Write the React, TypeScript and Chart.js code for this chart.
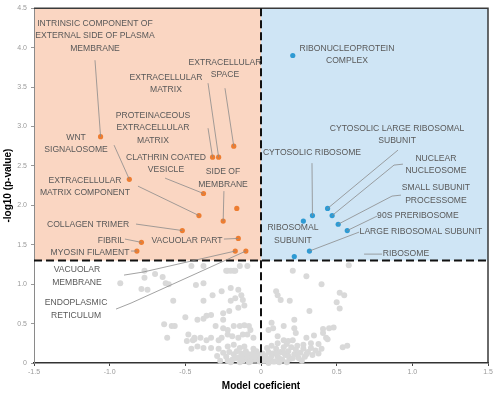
import React, { useEffect, useRef } from "react";
import { Chart, registerables } from "chart.js";
Chart.register(...registerables);

// ---- axes ----
const xRange = [-1.5, 1.5];
const yRange = [0, 4.5];
const xStep = 0.5;
const yStep = 0.5;
const pThreshold = 1.3;

// ---- enriched in negative coefficient (orange) ----
const negTerms = ["intrinsic", "wnt", "exSpace", "protEcm", "ecm", "clathrin", "ecmComp", "sideMem", "other", "collagen", "fibril", "myosin", "vacPart", "vacMem", "er"];
const negX = [-1.06, -0.87, -0.18, -0.32, -0.28, -0.38, -0.41, -0.25, -0.16, -0.52, -0.79, -0.82, -0.15, -0.17, -0.1];
const negY = [2.87, 2.33, 2.75, 2.61, 2.61, 2.15, 1.87, 1.8, 1.96, 1.68, 1.53, 1.42, 1.58, 1.42, 1.42];

// ---- enriched in positive coefficient (blue) ----
const posTerms = ["rnp", "cytLarge", "nucNuc", "cytRibo", "riboSub", "ssp", "pre90", "largeSub", "ribosome"];
const posX = [0.21, 0.44, 0.47, 0.34, 0.28, 0.51, 0.57, 0.32, 0.22];
const posY = [3.9, 1.96, 1.87, 1.87, 1.8, 1.76, 1.68, 1.42, 1.35];

// ---- non-significant terms (grey) ----
const greyPoints: [number, number][] = [
  [-0.93, 1.01], [-0.77, 1.17], [-0.7, 1.13], [-0.65, 1.09], [-0.77, 1.08], [-0.63, 1.01], [-0.61, 1.0], [-0.79, 0.94], [-0.75, 0.93],
  [-0.58, 0.79], [-0.5, 0.58], [-0.64, 0.49], [-0.59, 0.47], [-0.57, 0.47], [-0.62, 0.32], [-0.48, 0.36], [-0.45, 0.29], [-0.44, 0.3],
  [-0.49, 0.28], [-0.46, 0.18],
  [-0.46, 1.23], [-0.38, 1.23], [-0.22, 1.17], [-0.18, 1.17], [-0.14, 1.23], [-0.09, 1.23], [-0.23, 1.17], [-0.2, 1.17], [-0.17, 1.17],
  [-0.43, 0.99], [-0.38, 1.01], [-0.38, 0.79], [-0.32, 0.86], [-0.26, 0.91],
  [-0.2, 0.95], [-0.15, 0.93], [-0.13, 0.86], [-0.17, 0.82], [-0.12, 0.8], [-0.11, 0.73], [-0.2, 0.79], [-0.15, 0.7],
  [-0.25, 0.63], [-0.21, 0.66],
  [-0.42, 0.55], [-0.38, 0.56], [-0.36, 0.6], [-0.33, 0.61], [-0.25, 0.55],
  [-0.3, 0.47], [-0.25, 0.44], [-0.22, 0.42], [-0.18, 0.47], [-0.14, 0.47], [-0.11, 0.48], [-0.08, 0.47], [-0.07, 0.42],
  [-0.44, 0.32], [-0.4, 0.32], [-0.36, 0.29], [-0.33, 0.32], [-0.28, 0.29], [-0.26, 0.32], [-0.22, 0.36], [-0.19, 0.34], [-0.15, 0.32],
  [-0.12, 0.36], [-0.09, 0.36], [-0.05, 0.32],
  [-0.42, 0.21], [-0.38, 0.19], [-0.33, 0.19], [-0.28, 0.18], [-0.22, 0.21], [-0.18, 0.23], [-0.14, 0.19], [-0.11, 0.21],
  [-0.25, 0.13], [-0.23, 0.08], [-0.21, 0.14], [-0.19, 0.04], [-0.18, 0.11], [-0.16, 0.15], [-0.15, 0.07], [-0.13, 0.12], [-0.12, 0.03],
  [-0.11, 0.09], [-0.1, 0.15], [-0.09, 0.05], [-0.08, 0.11], [-0.07, 0.02], [-0.06, 0.08], [-0.05, 0.13], [-0.04, 0.04], [-0.03, 0.1],
  [-0.02, 0.06], [-0.01, 0.02], [-0.2, 0.01], [-0.14, 0.01], [-0.29, 0.09], [-0.05, 0.18], [-0.03, 0.15],
  [-0.22, 0.03], [-0.17, 0.06], [-0.13, 0.07], [-0.08, 0.01], [-0.06, 0.04], [-0.04, 0.08], [-0.02, 0.11], [0.0, 0.05], [-0.27, 0.03],
  [0.21, 1.17], [0.3, 1.1], [0.58, 1.24], [0.4, 1.0], [0.1, 0.91], [0.11, 0.86], [0.13, 0.8], [0.19, 0.79], [0.52, 0.89], [0.55, 0.86],
  [0.5, 0.77], [0.52, 0.69], [0.32, 0.66], [0.22, 0.55],
  [0.07, 0.51], [0.08, 0.44], [0.05, 0.42], [0.15, 0.47], [0.22, 0.44], [0.23, 0.38],
  [0.11, 0.34], [0.15, 0.29], [0.18, 0.28], [0.21, 0.29], [0.3, 0.32], [0.35, 0.35], [0.41, 0.43], [0.45, 0.44], [0.48, 0.45], [0.41, 0.38],
  [0.44, 0.3], [0.43, 0.32], [0.54, 0.2], [0.57, 0.22],
  [0.11, 0.25], [0.17, 0.24], [0.24, 0.22], [0.28, 0.23], [0.33, 0.25], [0.38, 0.24],
  [0.02, 0.03], [0.03, 0.09], [0.05, 0.14], [0.06, 0.05], [0.08, 0.12], [0.09, 0.02], [0.1, 0.18], [0.11, 0.08], [0.13, 0.14], [0.14, 0.04],
  [0.15, 0.2], [0.16, 0.1], [0.18, 0.15], [0.19, 0.05], [0.2, 0.2], [0.22, 0.11], [0.23, 0.17], [0.25, 0.06], [0.26, 0.13], [0.28, 0.18],
  [0.29, 0.08], [0.31, 0.14], [0.33, 0.19], [0.34, 0.1], [0.36, 0.16], [0.38, 0.12], [0.4, 0.18], [0.04, 0.19], [0.07, 0.22], [0.01, 0.12],
  [0.12, 0.01], [0.17, 0.01], [0.05, 0.0],
  [0.02, 0.07], [0.04, 0.05], [0.07, 0.09], [0.08, 0.02], [0.1, 0.12], [0.12, 0.06], [0.15, 0.13], [0.18, 0.09], [0.21, 0.06], [0.24, 0.1],
  [0.27, 0.03], [0.3, 0.11],
];

// ---- term labels (text position & leader line in data units) ----
type Ann = { lines: string[]; at: [number, number]; leader?: [number, number][]; term?: string };
const annotations: Ann[] = [
  { lines: ["INTRINSIC COMPONENT OF", "EXTERNAL SIDE OF PLASMA", "MEMBRANE"], at: [-1.097, 4.309], leader: [[-1.097, 3.84]], term: "intrinsic" },
  { lines: ["EXTRACELLULAR", "SPACE"], at: [-0.238, 3.815], leader: [[-0.238, 3.485]], term: "exSpace" },
  { lines: ["EXTRACELLULAR", "MATRIX"], at: [-0.628, 3.625], leader: [[-0.35, 3.549]], term: "ecm" },
  { lines: ["PROTEINACEOUS", "EXTRACELLULAR", "MATRIX"], at: [-0.714, 3.143], leader: [[-0.35, 2.978]], term: "protEcm" },
  { lines: ["WNT", "SIGNALOSOME"], at: [-1.222, 2.86], leader: [[-0.971, 2.763]], term: "wnt" },
  { lines: ["CLATHRIN COATED", "VESICLE"], at: [-0.628, 2.611], leader: [[-0.634, 2.345]], term: "clathrin" },
  { lines: ["SIDE OF", "MEMBRANE"], at: [-0.251, 2.421], leader: [[-0.245, 2.18]], term: "sideMem" },
  { lines: ["EXTRACELLULAR", "MATRIX COMPONENT"], at: [-1.163, 2.319], leader: [[-0.813, 2.243]], term: "ecmComp" },
  { lines: ["COLLAGEN TRIMER"], at: [-1.143, 1.749], leader: [[-0.826, 1.762]], term: "collagen" },
  { lines: ["FIBRIL"], at: [-0.991, 1.546], leader: [[-0.899, 1.572]], term: "fibril" },
  { lines: ["MYOSIN FILAMENT"], at: [-1.13, 1.394], leader: [[-0.859, 1.42]], term: "myosin" },
  { lines: ["VACUOLAR PART"], at: [-0.489, 1.546], leader: [[-0.245, 1.572]], term: "vacPart" },
  { lines: ["VACUOLAR", "MEMBRANE"], at: [-1.216, 1.179], leader: [[-0.905, 1.115], [-0.78, 1.153]], term: "vacMem" },
  { lines: ["ENDOPLASMIC", "RETICULUM"], at: [-1.222, 0.76], leader: [[-0.958, 0.684], [-0.859, 0.76]], term: "er" },
  { lines: ["RIBONUCLEOPROTEIN", "COMPLEX"], at: [0.568, 3.992] },
  { lines: ["CYTOSOLIC LARGE RIBOSOMAL", "SUBUNIT"], at: [0.899, 2.978], leader: [[0.905, 2.7]], term: "cytLarge" },
  { lines: ["CYTOSOLIC RIBOSOME"], at: [0.337, 2.662], leader: [[0.337, 2.535]], term: "cytRibo" },
  { lines: ["NUCLEAR", "NUCLEOSOME"], at: [1.156, 2.598], leader: [[0.938, 2.522], [0.879, 2.51]], term: "nucNuc" },
  { lines: ["SMALL SUBUNIT", "PROCESSOME"], at: [1.156, 2.218], leader: [[0.925, 2.129], [0.866, 2.117]], term: "ssp" },
  { lines: ["90S PRERIBOSOME"], at: [1.037, 1.863], leader: [[0.767, 1.863]], term: "pre90" },
  { lines: ["LARGE RIBOSOMAL SUBUNIT"], at: [1.057, 1.66], leader: [[0.648, 1.66]], term: "largeSub" },
  { lines: ["RIBOSOMAL", "SUBUNIT"], at: [0.211, 1.711] },
  { lines: ["RIBOSOME"], at: [0.958, 1.381], leader: [[0.681, 1.381], [0.8, 1.381]] },
];

const SALMON = "#FAD6C2";
const SKY = "#CFE5F5";
const ORANGE = "#ED7D31";
const BLUE = "#2E9AD3";
const GREY = "#D9D9D9";
const LABEL_FONT = "8.6px 'Liberation Sans Narrow', 'Liberation Sans', Arial, sans-serif";
const LINE_GAP = 12.5;

function termPoint(name: string): [number, number] | null {
  let i = negTerms.indexOf(name);
  if (i >= 0) return [negX[i], negY[i]];
  i = posTerms.indexOf(name);
  if (i >= 0) return [posX[i], posY[i]];
  return null;
}

const decorPlugin = {
  id: "decor",
  beforeDraw(chart: any) {
    const { ctx, chartArea: a, scales } = chart;
    const x0 = scales.x.getPixelForValue(0);
    const yT = scales.y.getPixelForValue(pThreshold);
    ctx.save();
    ctx.fillStyle = SALMON;
    ctx.fillRect(a.left, a.top, x0 - a.left, yT - a.top);
    ctx.fillStyle = SKY;
    ctx.fillRect(x0, a.top, a.right - x0, yT - a.top);
    ctx.restore();
  },
  afterDatasetsDraw(chart: any) {
    const { ctx, chartArea: a, scales } = chart;
    const sx = (v: number) => scales.x.getPixelForValue(v);
    const sy = (v: number) => scales.y.getPixelForValue(v);
    ctx.save();
    // frame top/right
    ctx.strokeStyle = "#3a3a3a";
    ctx.lineWidth = 1.5;
    ctx.beginPath();
    ctx.moveTo(a.left, a.top);
    ctx.lineTo(a.right, a.top);
    ctx.lineTo(a.right, a.bottom);
    ctx.stroke();
    // threshold dashed lines
    ctx.strokeStyle = "#111";
    ctx.lineWidth = 2;
    ctx.setLineDash([8, 4]);
    ctx.beginPath();
    ctx.moveTo(a.left, sy(pThreshold));
    ctx.lineTo(a.right, sy(pThreshold));
    ctx.moveTo(sx(0), a.top);
    ctx.lineTo(sx(0), a.bottom);
    ctx.stroke();
    ctx.setLineDash([]);
    // leaders
    ctx.strokeStyle = "#8a8a8a";
    ctx.lineWidth = 0.8;
    annotations.forEach((an) => {
      if (!an.leader) return;
      const pts = an.leader.slice();
      if (an.term) {
        const p = termPoint(an.term);
        if (p) pts.push(p);
      }
      ctx.beginPath();
      pts.forEach((p, i) => {
        if (i === 0) ctx.moveTo(sx(p[0]), sy(p[1]));
        else ctx.lineTo(sx(p[0]), sy(p[1]));
      });
      ctx.stroke();
    });
    // label text
    ctx.fillStyle = "#595959";
    ctx.font = LABEL_FONT;
    ctx.textAlign = "center";
    ctx.textBaseline = "middle";
    annotations.forEach((an) => {
      const cx = sx(an.at[0]);
      const cy = sy(an.at[1]);
      an.lines.forEach((t, i) => ctx.fillText(t, cx, cy + i * LINE_GAP));
    });
    ctx.restore();
  },
};

export default function App() {
  const ref = useRef<HTMLCanvasElement>(null);
  useEffect(() => {
    if (!ref.current) return;
    const chart = new Chart(ref.current, {
      type: "scatter",
      data: {
        datasets: [
          {
            label: "negative",
            data: negX.map((x, i) => ({ x, y: negY[i] })),
            backgroundColor: ORANGE,
            borderWidth: 0,
            pointRadius: 2.6,
          },
          {
            label: "positive",
            data: posX.map((x, i) => ({ x, y: posY[i] })),
            backgroundColor: BLUE,
            borderWidth: 0,
            pointRadius: 2.6,
          },
          {
            label: "ns",
            data: greyPoints.map(([x, y]) => ({ x, y })),
            backgroundColor: GREY,
            borderWidth: 0,
            pointRadius: 3,
          },
        ],
      },
      options: {
        responsive: false,
        animation: false,
        devicePixelRatio: 1,
        layout: { padding: { left: 0, top: 8, right: 11, bottom: 0 } },
        plugins: { legend: { display: false }, tooltip: { enabled: false } },
        elements: { point: { hoverRadius: 3 } },
        clip: false as any,
        scales: {
          x: {
            type: "linear",
            min: xRange[0],
            max: xRange[1],
            afterFit: (s: any) => { s.height = 32; },
            ticks: { stepSize: xStep, color: "#9a9a9a", font: { size: 7, family: "'Liberation Sans', Arial" }, padding: 2 },
            grid: { drawOnChartArea: false, drawTicks: true, tickLength: 3, tickColor: "#444" },
            border: { color: "#333", width: 1.5 },
            title: {
              display: true,
              text: "Model coeficient",
              color: "#000",
              font: { size: 10, weight: "bold", family: "'Liberation Sans', Arial" },
              padding: { top: 0, bottom: 3 },
            },
          },
          y: {
            type: "linear",
            min: yRange[0],
            max: yRange[1],
            afterFit: (s: any) => { s.width = 34; },
            ticks: { stepSize: yStep, color: "#9a9a9a", font: { size: 7, family: "'Liberation Sans', Arial" }, padding: 4 },
            grid: { drawOnChartArea: false, drawTicks: true, tickLength: 3, tickColor: "#999" },
            border: { color: "#8a8a8a", width: 1 },
            title: {
              display: true,
              text: "-log10 (p-value)",
              color: "#000",
              font: { size: 10, weight: "bold", family: "'Liberation Sans', Arial" },
              padding: { top: 2, bottom: 0 },
            },
          },
        },
      },
      plugins: [decorPlugin],
    } as any);
    return () => chart.destroy();
  }, []);
  return (
    <div style={{ position: "fixed", left: 0, top: 0, width: 499, height: 395, background: "#fff" }}>
      <canvas ref={ref} width={499} height={395} />
    </div>
  );
}
